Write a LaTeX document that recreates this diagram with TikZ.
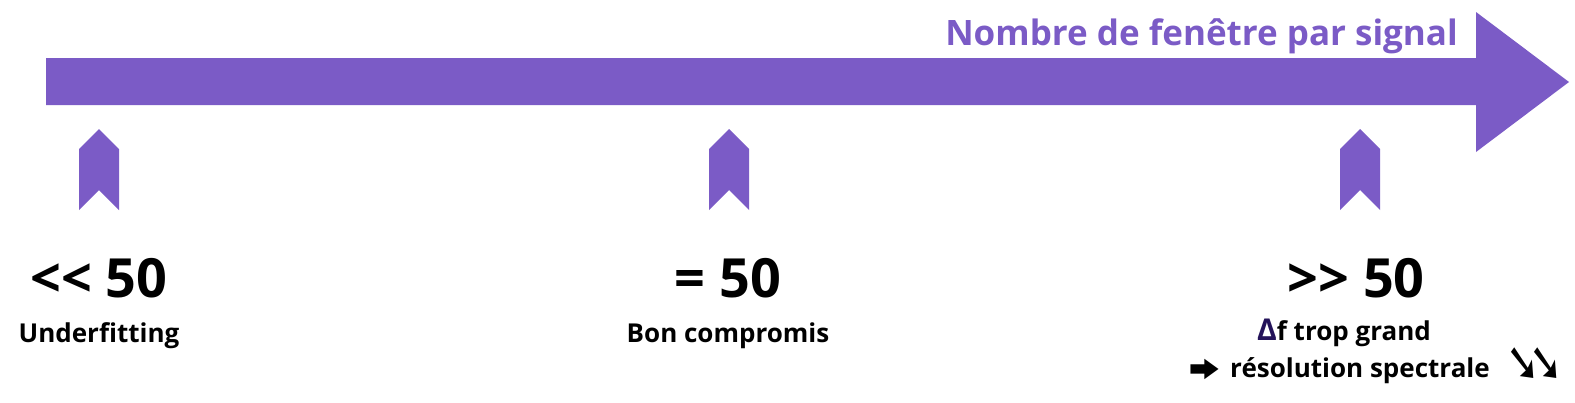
\documentclass[tikz,border=0pt]{standalone}
\usepackage{fontspec}
\usepackage{graphicx}
\setmainfont{Open Sans}[Ligatures=TeXOff]
\newfontfamily\symbfont{DejaVu Sans}
\definecolor{axe}{HTML}{7B5BC6}
\definecolor{delta}{HTML}{24135A}
\begin{document}
\begin{tikzpicture}[x=1pt, y=-1pt,
    valeur/.style={anchor=base, inner sep=0pt, font=\bfseries\fontsize{54}{60}\selectfont},
    legende/.style={anchor=base, inner sep=0pt, font=\bfseries\fontsize{26}{30}\selectfont}
]
\useasboundingbox (0,0) rectangle (1575,402);
% Axe
\fill[axe] (46,58) -- (1476,58) -- (1476,12) -- (1569,82) -- (1476,152) -- (1476,105) -- (46,105) -- cycle;
\node[anchor=base east, inner sep=0pt, text=axe, font=\bfseries\fontsize{35}{40}\selectfont] (titre) at (1458,45) {Nombre de fenêtre par signal};

% Reperes
\foreach \x/\n in {99/a, 729/b, 1360/c} {
    \fill[axe] (\x-20,210) -- ++(0,-61) -- ++(20,-20) -- ++(20,20) -- ++(0,61) -- ++(-20,-20) -- cycle;
    \coordinate (r\n) at (\x,170);
}

% Valeurs
\node[valeur] (va) at (99,297) {<\kern0pt< 50};
\node[legende] (la) at (99,342) {Underfitting};

\node[valeur] (vb) at (728,297) {= 50};
\node[legende] (lb) at (728,342) {Bon compromis};

\node[valeur] (vc) at (1356,297) {>\kern0pt> 50};
\node[legende] (lc) at (1344,340) {{\color{delta}\fontsize{30}{30}\selectfont Δ}f trop grand};
\node[legende] (ld) at (1360,377) {\llap{\raisebox{-2pt}{\scalebox{1.2}[0.5]{\symbfont\fontsize{64}{64}\selectfont ➧}}\hspace{-7pt}}résolution spectrale\rlap{\hspace{17pt}\raisebox{-4pt}{\scalebox{0.8}[1.1]{\symbfont\fontsize{50}{50}\selectfont ➘\kern-14pt➘}}}};
\end{tikzpicture}
\end{document}
